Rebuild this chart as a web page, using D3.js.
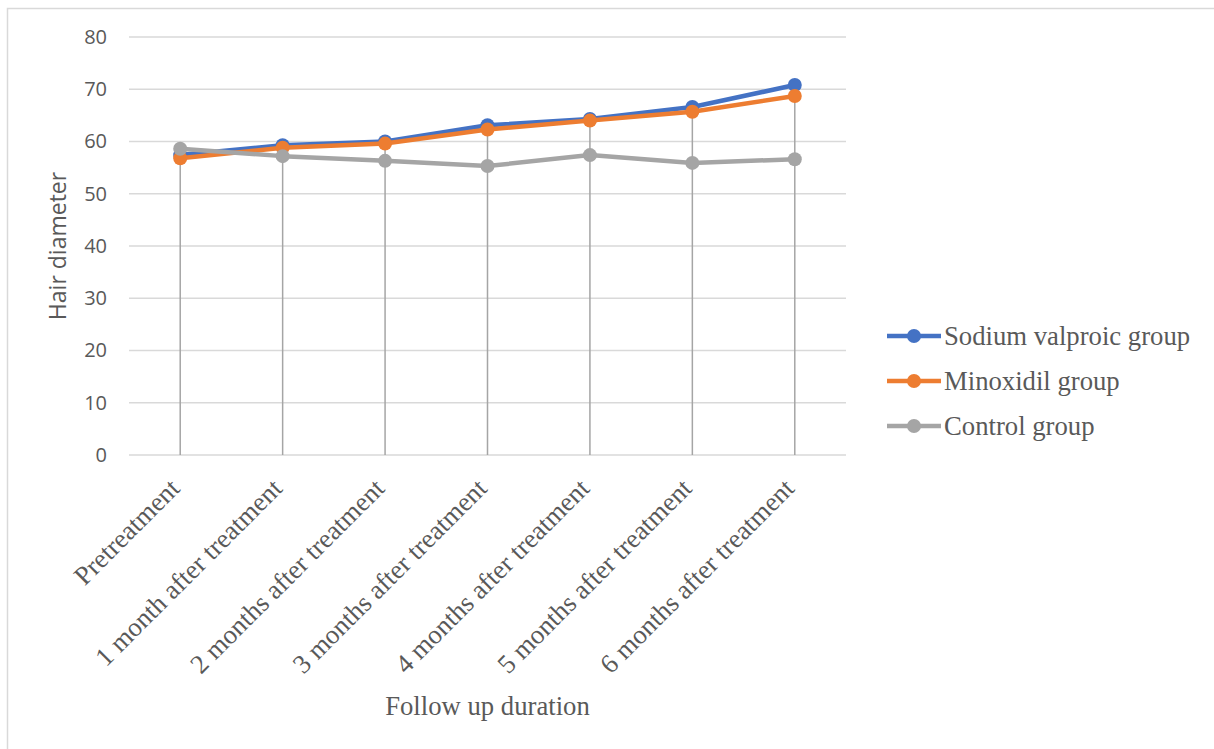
<!DOCTYPE html>
<html>
<head>
<meta charset="utf-8">
<script src="https://cdn.jsdelivr.net/npm/d3@7"></script>
<style>
  body { margin: 0; background: #fff; }
  svg { display: block; }
</style>
</head>
<body>
<div id="chart"></div>
<script>
// datas
const categories = ["Pretreatment", "1 month after treatment", "2 months after treatment",
  "3 months after treatment", "4 months after treatment", "5 months after treatment",
  "6 months after treatment"];
const seriesNames = ["Sodium valproic group", "Minoxidil group", "Control group"];
const sodiumValues = [57.4, 59.3, 60.0, 63.1, 64.3, 66.6, 70.8];
const minoxidilValues = [56.8, 58.8, 59.6, 62.3, 64.0, 65.7, 68.7];
const controlValues = [58.6, 57.2, 56.3, 55.3, 57.4, 55.9, 56.6];
const yTicks = [0, 10, 20, 30, 40, 50, 60, 70, 80];
const colors = ["#4472C4", "#ED7D31", "#A5A5A5"];

const series = [sodiumValues, minoxidilValues, controlValues];

// view
const w = 1214;
const h = 749;
const margin = {left: 129, right: 368, top: 37, bottom: 294};
const serif = "'Liberation Serif', 'Times New Roman', serif";
const sans = "'Open Sans', sans-serif";

const svg = d3.select("#chart")
  .append("svg")
  .attr("width", w)
  .attr("height", h);

// chart frame (only top/left edge visible)
svg.append("rect")
  .attr("x", 7.5).attr("y", 8.5)
  .attr("width", w + 20).attr("height", h + 20)
  .attr("fill", "none")
  .attr("stroke", "#d9d9d9")
  .attr("stroke-width", 1.5);

const x = d3.scaleBand()
  .domain(categories)
  .range([margin.left, w - margin.right]);

const y = d3.scaleLinear()
  .domain([0, 80])
  .range([h - margin.bottom, margin.top]);

// gridlines
svg.append("g")
  .selectAll("line")
  .data(yTicks)
  .enter()
  .append("line")
  .attr("x1", margin.left)
  .attr("x2", w - margin.right)
  .attr("y1", d => y(d))
  .attr("y2", d => y(d))
  .attr("stroke", "#d9d9d9")
  .attr("stroke-width", 1.3);

// y axis labels
const yAxis = svg.append("g")
  .attr("transform", `translate(${margin.left},0)`)
  .call(d3.axisLeft(y).tickValues(yTicks).tickSize(0).tickPadding(22));
yAxis.select(".domain").remove();
yAxis.selectAll("text")
  .attr("font-family", sans)
  .attr("font-size", 20)
  .attr("fill", "#595959");

// drop lines, from the top point of each category down to the axis
const cx = d => x(d) + x.bandwidth() / 2;
svg.append("g")
  .selectAll("line")
  .data(categories)
  .enter()
  .append("line")
  .attr("x1", cx)
  .attr("x2", cx)
  .attr("y1", (d, i) => y(d3.max(series, s => s[i])))
  .attr("y2", y(0))
  .attr("stroke", "#a5a5a5")
  .attr("stroke-width", 1.5);

// x axis labels
const xAxis = svg.append("g")
  .attr("transform", `translate(0,${y(0)})`)
  .call(d3.axisBottom(x).tickSize(0).tickPadding(0));
xAxis.select(".domain").remove();
xAxis.selectAll("text")
  .attr("font-family", serif)
  .attr("font-size", 26.7)
  .attr("fill", "#595959")
  .attr("text-anchor", "end")
  .attr("dy", 0)
  .attr("transform", "translate(1,35) rotate(-45)");

// lines + markers
const line = d3.line()
  .x((d, i) => cx(categories[i]))
  .y(d => y(d));

series.forEach((s, k) => {
  const g = svg.append("g");
  g.append("path")
    .datum(s)
    .attr("d", line)
    .attr("fill", "none")
    .attr("stroke", colors[k])
    .attr("stroke-width", 4.5)
    .attr("stroke-linejoin", "round");
  g.selectAll("circle")
    .data(s)
    .enter()
    .append("circle")
    .attr("cx", (d, i) => cx(categories[i]))
    .attr("cy", d => y(d))
    .attr("r", 7)
    .attr("fill", colors[k]);
});

// axis titles
svg.append("text")
  .attr("transform", `translate(66,${(y(0) + y(80)) / 2}) rotate(-90)`)
  .attr("text-anchor", "middle")
  .attr("font-family", sans)
  .attr("font-size", 23)
  .attr("fill", "#595959")
  .text("Hair diameter");

svg.append("text")
  .attr("x", (margin.left + w - margin.right) / 2)
  .attr("y", 715)
  .attr("text-anchor", "middle")
  .attr("font-family", serif)
  .attr("font-size", 26.7)
  .attr("fill", "#595959")
  .text("Follow up duration");

// legend
const legend = svg.append("g")
  .selectAll("g")
  .data(seriesNames)
  .enter()
  .append("g")
  .attr("transform", (d, i) => `translate(887,${336 + i * 45})`);
legend.append("line")
  .attr("x1", 0).attr("x2", 54)
  .attr("stroke", (d, i) => colors[i])
  .attr("stroke-width", 4.5);
legend.append("circle")
  .attr("cx", 27).attr("r", 7)
  .attr("fill", (d, i) => colors[i]);
legend.append("text")
  .attr("x", 57)
  .attr("dy", "0.35em")
  .attr("font-family", serif)
  .attr("font-size", 26.7)
  .attr("fill", "#595959")
  .text(d => d);
</script>
</body>
</html>
